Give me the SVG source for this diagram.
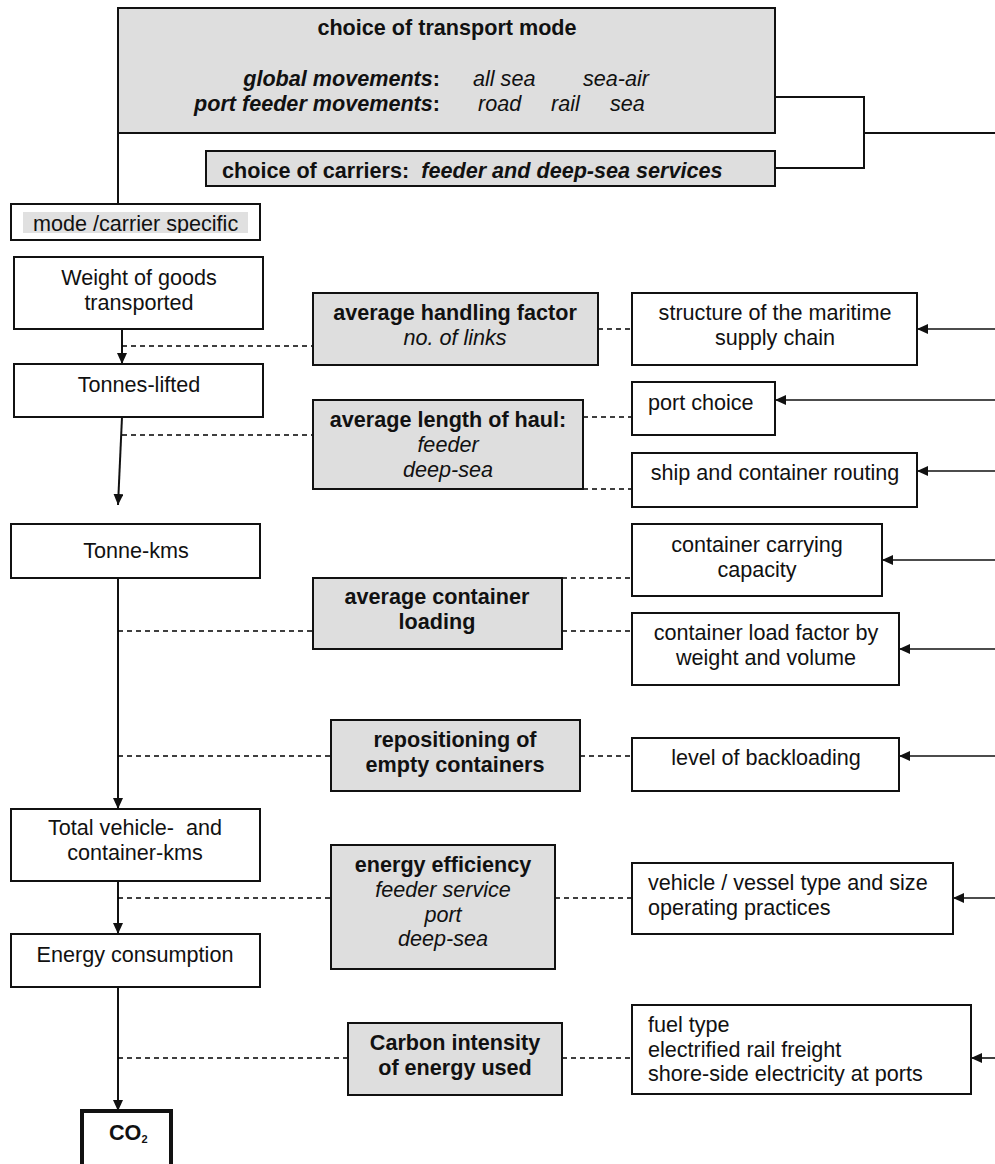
<svg xmlns="http://www.w3.org/2000/svg" width="995" height="1164" viewBox="0 0 995 1164">
<style>
text{font-family:"Liberation Sans",Arial,sans-serif;font-size:21.6px;fill:#111;white-space:pre}
.b{font-weight:bold}
.i{font-style:italic}
.c{text-anchor:middle}
.r{text-anchor:end}
.box{fill:#fff;stroke:#111;stroke-width:2}
.gbox{fill:#dedede;stroke:#111;stroke-width:2}
.ln{fill:none;stroke:#111;stroke-width:2}
.ar{fill:none;stroke:#111;stroke-width:1.6}
.ds{fill:none;stroke:#000;stroke-width:1.4;stroke-dasharray:5 4}
</style>
<defs>
<marker id="ah" markerUnits="userSpaceOnUse" markerWidth="12" markerHeight="10" refX="11" refY="5" orient="auto">
<path d="M0,0 L11,5 L0,10 z" fill="#111"/>
</marker>
<clipPath id="clipCarrier"><rect x="206" y="151" width="569" height="31"/></clipPath>
<clipPath id="clipMode"><rect x="11" y="204" width="249" height="29"/></clipPath>
</defs>

<g id="connectors">
<path class="ln" d="M775,97 H864 V168 H775"/>
<path class="ln" d="M864,133 H995"/>
<path class="ln" d="M118,133 V204"/>
<path class="ln" d="M122,329 V364" marker-end="url(#ah)"/>
<path class="ln" d="M122,417 L118,505" marker-end="url(#ah)"/>
<path class="ln" d="M118,578 V809" marker-end="url(#ah)"/>
<path class="ln" d="M118,881 V934" marker-end="url(#ah)"/>
<path class="ln" d="M118,987 V1111" marker-end="url(#ah)"/>
<path class="ds" d="M122,346 H313"/>
<path class="ds" d="M122,435 H313"/>
<path class="ds" d="M118,631 H313"/>
<path class="ds" d="M118,756 H331"/>
<path class="ds" d="M118,898 H331"/>
<path class="ds" d="M118,1058 H348"/>
<path class="ds" d="M598,329 H632"/>
<path class="ds" d="M583,417 H632"/>
<path class="ds" d="M583,489 H632"/>
<path class="ds" d="M562,578 H632"/>
<path class="ds" d="M562,631 H632"/>
<path class="ds" d="M580,756 H632"/>
<path class="ds" d="M555,898 H632"/>
<path class="ds" d="M562,1058 H632"/>
<path class="ar" d="M995,329 H917" marker-end="url(#ah)"/>
<path class="ar" d="M995,400 H775" marker-end="url(#ah)"/>
<path class="ar" d="M995,471 H917" marker-end="url(#ah)"/>
<path class="ar" d="M995,560 H882" marker-end="url(#ah)"/>
<path class="ar" d="M995,649 H899" marker-end="url(#ah)"/>
<path class="ar" d="M995,756 H899" marker-end="url(#ah)"/>
<path class="ar" d="M995,898 H953" marker-end="url(#ah)"/>
<path class="ar" d="M995,1058 H971" marker-end="url(#ah)"/>
</g>

<g id="transport-mode">
<rect class="gbox" x="118" y="8" width="657" height="125"/>
<text class="b c" x="447" y="35">choice of transport mode</text>
<text class="b i r" x="440" y="86">global movements<tspan font-style="normal">:</tspan></text>
<text class="i" x="473" y="86">all sea</text>
<text class="i" x="583" y="86">sea-air</text>
<text class="b i r" x="440" y="111">port feeder movements<tspan font-style="normal">:</tspan></text>
<text class="i" x="478" y="111">road</text>
<text class="i" x="551" y="111">rail</text>
<text class="i" x="610" y="111">sea</text>
</g>

<g id="carriers">
<rect class="gbox" x="206" y="151" width="569" height="35"/>
<text class="b" x="222" y="178" clip-path="url(#clipCarrier)">choice of carriers:  <tspan class="i">feeder and deep-sea services</tspan></text>
</g>

<g id="mode-carrier">
<rect class="box" x="11" y="204" width="249" height="36"/>
<rect x="23" y="212" width="225" height="21" fill="#e0e0e0"/>
<text x="33" y="231" clip-path="url(#clipMode)">mode /carrier specific</text>
</g>

<g id="weight">
<rect class="box" x="14" y="257" width="249" height="72"/>
<text class="c" x="139" y="285">Weight of goods</text>
<text class="c" x="139" y="310">transported</text>
</g>

<g id="tonnes-lifted">
<rect class="box" x="14" y="364" width="249" height="53"/>
<text class="c" x="139" y="392">Tonnes-lifted</text>
</g>

<g id="tonne-kms">
<rect class="box" x="11" y="524" width="249" height="54"/>
<text class="c" x="136" y="558">Tonne-kms</text>
</g>

<g id="total-kms">
<rect class="box" x="11" y="809" width="249" height="72"/>
<text class="c" x="135" y="835">Total vehicle-  and</text>
<text class="c" x="135" y="860">container-kms</text>
</g>

<g id="energy-consumption">
<rect class="box" x="11" y="934" width="249" height="53"/>
<text class="c" x="135" y="962">Energy consumption</text>
</g>

<g id="co2">
<rect x="82" y="1111" width="89" height="60" fill="#fff" stroke="#111" stroke-width="4"/>
<text class="b" x="109" y="1140" font-size="17">CO<tspan font-size="11" dy="3">2</tspan></text>
</g>

<g id="handling-factor">
<rect class="gbox" x="313" y="293" width="285" height="72"/>
<text class="b c" x="455" y="320">average handling factor</text>
<text class="i c" x="455" y="345">no. of links</text>
</g>

<g id="length-of-haul">
<rect class="gbox" x="313" y="400" width="270" height="89"/>
<text class="b c" x="448" y="427">average length of haul:</text>
<text class="i c" x="448" y="452">feeder</text>
<text class="i c" x="448" y="477">deep-sea</text>
</g>

<g id="container-loading">
<rect class="gbox" x="313" y="578" width="249" height="71"/>
<text class="b c" x="437" y="604">average container</text>
<text class="b c" x="437" y="629">loading</text>
</g>

<g id="repositioning">
<rect class="gbox" x="331" y="720" width="249" height="71"/>
<text class="b c" x="455" y="747">repositioning of</text>
<text class="b c" x="455" y="772">empty containers</text>
</g>

<g id="energy-efficiency">
<rect class="gbox" x="331" y="845" width="224" height="124"/>
<text class="b c" x="443" y="872">energy efficiency</text>
<text class="i c" x="443" y="897">feeder service</text>
<text class="i c" x="443" y="922">port</text>
<text class="i c" x="443" y="946">deep-sea</text>
</g>

<g id="carbon-intensity">
<rect class="gbox" x="348" y="1023" width="214" height="72"/>
<text class="b c" x="455" y="1050">Carbon intensity</text>
<text class="b c" x="455" y="1075">of energy used</text>
</g>

<g id="supply-chain">
<rect class="box" x="632" y="293" width="285" height="72"/>
<text class="c" x="775" y="320">structure of the maritime</text>
<text class="c" x="775" y="345">supply chain</text>
</g>

<g id="port-choice">
<rect class="box" x="632" y="382" width="143" height="53"/>
<text x="648" y="410">port choice</text>
</g>

<g id="routing">
<rect class="box" x="632" y="453" width="285" height="54"/>
<text class="c" x="775" y="480">ship and container routing</text>
</g>

<g id="carrying-capacity">
<rect class="box" x="632" y="524" width="250" height="72"/>
<text class="c" x="757" y="552">container carrying</text>
<text class="c" x="757" y="577">capacity</text>
</g>

<g id="load-factor">
<rect class="box" x="632" y="613" width="267" height="72"/>
<text class="c" x="766" y="640">container load factor by</text>
<text class="c" x="766" y="665">weight and volume</text>
</g>

<g id="backloading">
<rect class="box" x="632" y="738" width="267" height="53"/>
<text class="c" x="766" y="765">level of backloading</text>
</g>

<g id="vehicle-type">
<rect class="box" x="632" y="863" width="321" height="71"/>
<text x="648" y="890">vehicle / vessel type and size</text>
<text x="648" y="915">operating practices</text>
</g>

<g id="fuel">
<rect class="box" x="632" y="1005" width="339" height="89"/>
<text x="648" y="1032">fuel type</text>
<text x="648" y="1057">electrified rail freight</text>
<text x="648" y="1081">shore-side electricity at ports</text>
</g>
</svg>
